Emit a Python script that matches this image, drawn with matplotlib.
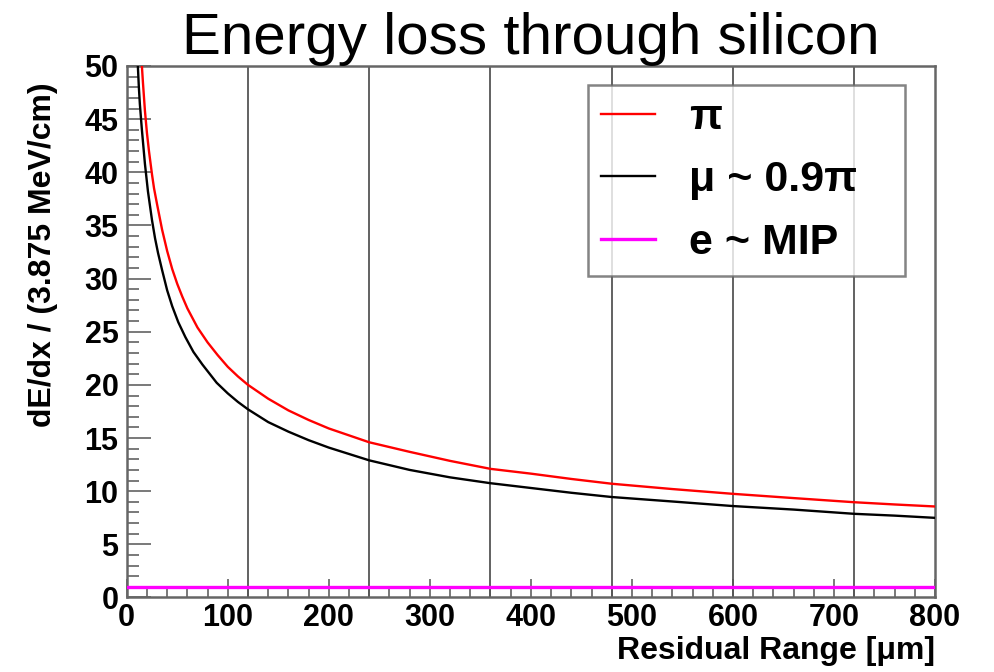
import matplotlib
matplotlib.use("Agg")
import matplotlib.pyplot as plt
from matplotlib.ticker import MultipleLocator

# values
# residual range in um, dE/dx in units of 3.875 MeV/cm
pi_x = [14, 15, 16, 18, 20, 22, 25, 27, 30, 35, 40, 45, 50, 55, 60, 70, 80, 90, 100,
        110, 120, 140, 160, 180, 200, 240, 280, 320, 360, 400, 440, 480, 540, 600,
        660, 720, 760, 800]
pi_y = [51.0, 50.0, 48.5, 45.8, 43.7, 42.0, 39.8, 38.5, 37.0, 34.6, 32.6, 30.9, 29.5,
        28.3, 27.2, 25.4, 24.0, 22.8, 21.7, 20.8, 20.0, 18.7, 17.6, 16.7, 15.9, 14.6,
        13.7, 12.85, 12.1, 11.65, 11.15, 10.7, 10.2, 9.75, 9.35, 8.96, 8.75, 8.56]

mu_x = [10, 11, 12, 13, 15, 18, 21, 25, 28, 31, 35, 40, 45, 51, 58, 66, 75, 89, 100,
        110, 120, 140, 160, 180, 200, 240, 280, 320, 360, 400, 440, 480, 540, 600,
        660, 720, 760, 800]
mu_y = [52.0, 50.0, 48.0, 46.4, 44.0, 40.8, 38.2, 35.5, 33.8, 32.4, 30.8, 28.9, 27.4,
        25.9, 24.5, 23.1, 21.9, 20.2, 19.2, 18.4, 17.7, 16.5, 15.6, 14.8, 14.1, 12.9,
        12.0, 11.3, 10.75, 10.3, 9.85, 9.45, 9.03, 8.6, 8.27, 7.87, 7.7, 7.49]

e_x = [0, 800]
e_y = [1.0, 1.0]

grid_x = [120, 240, 360, 480, 600, 720]

labels = ["\u03c0", "\u03bc ~ 0.9\u03c0", "e ~ MIP"]

plt.rcParams['font.family'] = ['Liberation Sans', 'DejaVu Sans']

fig = plt.figure(figsize=(9.94, 6.72), dpi=100)
ax = fig.add_axes([0.1275, 0.1109, 0.8132, 0.7909])

for gx in grid_x:
    ax.axvline(gx, color='#555555', lw=1.3, zorder=1)

line_e, = ax.plot(e_x, e_y, color='#ff00ff', lw=2.4, zorder=3)
line_mu, = ax.plot(mu_x, mu_y, color='black', lw=1.7, zorder=4)
line_pi, = ax.plot(pi_x, pi_y, color='#ff0000', lw=1.7, zorder=5)

ax.set_xlim(0, 800)
ax.set_ylim(0, 50)

# ROOT style ticks: inside, only bottom and left
ax.xaxis.set_major_locator(MultipleLocator(100))
ax.xaxis.set_minor_locator(MultipleLocator(20))
ax.yaxis.set_major_locator(MultipleLocator(5))
ax.yaxis.set_minor_locator(MultipleLocator(1))
ax.tick_params(axis='x', which='major', direction='in', length=13, width=1.1,
               color='#555555', labelsize=22, pad=4)
ax.tick_params(axis='x', which='minor', direction='in', length=6, width=1.1,
               color='#555555')
ax.tick_params(axis='y', which='major', direction='in', length=17, width=1.1,
               color='#555555', labelsize=22, pad=6)
ax.tick_params(axis='y', which='minor', direction='in', length=8.5, width=1.1,
               color='#555555')
for lab in ax.get_xticklabels() + ax.get_yticklabels():
    lab.set_fontweight('bold')

for sp in ax.spines.values():
    sp.set_color('#666666')
    sp.set_linewidth(1.8)

ax.set_xlabel("Residual Range [\u03bcm]", fontsize=23, fontweight='bold', loc='right')
ax.xaxis.set_label_coords(1.0, -0.072)
ax.set_ylabel("dE/dx / (3.875 MeV/cm)", fontsize=23, fontweight='bold', loc='top')
ax.yaxis.set_label_coords(-0.085, 0.97)

ax.set_title("Energy loss through silicon", fontsize=42, pad=2)

leg = ax.legend([line_pi, line_mu, line_e], labels,
                loc='upper left', bbox_to_anchor=(0.571, 0.964, 0.392, 0.0),
                mode='expand', borderaxespad=0, fancybox=False,
                prop={'size': 31, 'weight': 'bold'},
                handlelength=1.25, handletextpad=0.8, labelspacing=0.52,
                borderpad=0.3)
leg.get_frame().set_edgecolor('#666666')
leg.get_frame().set_linewidth(1.8)

fig.savefig('out.png', dpi=100)
